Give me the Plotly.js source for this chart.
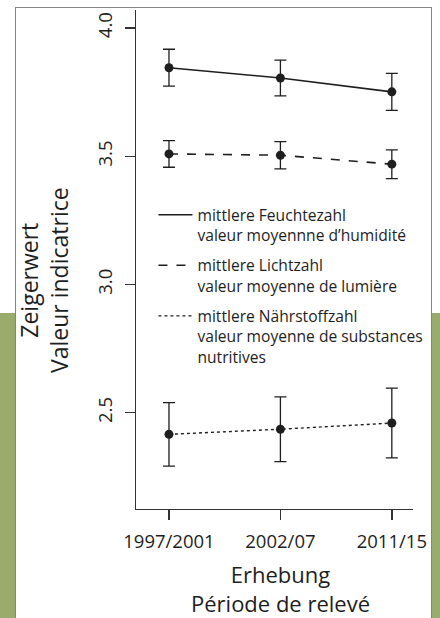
<!DOCTYPE html>
<html><head><meta charset="utf-8">
<script src="https://cdn.plot.ly/plotly-3.0.1.min.js"></script>
<style>
html,body{margin:0;padding:0;background:#fff;}
#wrap{position:relative;width:440px;height:618px;overflow:hidden;background:#fff;}
.green{position:absolute;background:#9aac6c;top:313px;height:305px;}
#gl{left:0;width:16px;}
#gr{left:432px;width:8px;}
#frame{position:absolute;left:15px;top:7px;width:417px;height:640px;border:1.5px solid #858585;box-sizing:border-box;background:#fff;}
#chart{position:absolute;left:0;top:0;width:440px;height:618px;}
</style></head>
<body><div id="wrap"><div class="green" id="gl"></div><div class="green" id="gr"></div><div id="frame"></div><div id="chart"></div></div>
<script>
// ---- data ----
const periods = ['1997/2001', '2002/07', '2011/15'];
const feuchteMean = [3.845, 3.805, 3.751];
const feuchteErr = [0.072, 0.070, 0.072];
const lichtMean = [3.509, 3.504, 3.469];
const lichtErr = [0.052, 0.053, 0.056];
const naehrMean = [2.416, 2.436, 2.460];
const naehrErr = [0.124, 0.126, 0.136];
const seriesNames = [
  'mittlere Feuchtezahl<br>valeur moyennne d\u2019humidité',
  'mittlere Lichtzahl<br>valeur moyenne de lumière',
  'mittlere Nährstoffzahl<br>valeur moyenne de substances<br>nutritives'
];
const yTickVals = [2.5, 3.0, 3.5, 4.0];
const yTickText = ['2.5', '3.0', '3.5', '4.0'];
const xTitle = 'Erhebung<br>Période de relevé';
const yTitle = 'Zeigerwert<br>Valeur indicatrice';

const ink = '#1e1e1e';
const FONT = 'Open Sans, sans-serif';
const means = [feuchteMean, lichtMean, naehrMean];
const errs = [feuchteErr, lichtErr, naehrErr];
const dashes = ['solid', 'dash', 'dot'];
const widths = [1.6, 1.6, 1.4];

const traces = [];
means.forEach((m, i) => {
  traces.push({
    x: periods, y: m, mode: 'lines', name: seriesNames[i],
    legendgroup: 'g' + i, showlegend: true,
    line: {color: ink, width: widths[i], dash: dashes[i]},
    hoverinfo: 'skip'
  });
});
means.forEach((m, i) => {
  traces.push({
    x: periods, y: m, mode: 'markers', showlegend: false, legendgroup: 'g' + i,
    marker: {color: ink, size: 9, symbol: 'circle'},
    error_y: {type: 'data', array: errs[i], visible: true, color: ink, thickness: 1.3, width: 6},
    hoverinfo: 'skip'
  });
});

const layout = {
  width: 440, height: 618,
  margin: {l: 136, r: 27, t: 10, b: 109, pad: 0, autoexpand: false},
  paper_bgcolor: 'rgba(0,0,0,0)', plot_bgcolor: 'rgba(0,0,0,0)',
  font: {family: FONT, color: ink},
  showlegend: true,
  legend: {
    x: 0.063, y: 0.623, xanchor: 'left', yanchor: 'top',
    bgcolor: 'rgba(0,0,0,0)', borderwidth: 0,
    font: {family: FONT, size: 15.6, color: ink},
    tracegroupgap: 7, valign: 'top', itemwidth: 34
  },
  xaxis: {
    type: 'category', range: [-0.296, 2.19], automargin: false,
    showline: true, linecolor: '#333', linewidth: 1.4,
    ticks: 'outside', ticklen: 10, tickwidth: 1.4, tickcolor: '#333',
    showgrid: false, zeroline: false, tickangle: 0,
    tickfont: {family: FONT, size: 18.5, color: ink},
    ticklabelstandoff: 5, fixedrange: true
  },
  yaxis: {
    range: [2.125, 4.07], automargin: false,
    showline: true, linecolor: '#333', linewidth: 1.4,
    ticks: 'outside', ticklen: 10, tickwidth: 1.4, tickcolor: '#333',
    tickvals: yTickVals, ticktext: yTickText, tickangle: -90,
    showgrid: false, zeroline: false,
    tickfont: {family: FONT, size: 18.5, color: ink},
    ticklabelstandoff: 5, fixedrange: true
  },
  annotations: [
    {text: yTitle, xref: 'paper', yref: 'paper', x: (44 - 136) / 277, y: (509 - 280) / 499,
     xanchor: 'center', yanchor: 'middle', textangle: -90, showarrow: false,
     font: {family: FONT, size: 23, color: ink}},
    {text: xTitle, xref: 'paper', yref: 'paper', x: (280 - 136) / 277, y: (509 - 588) / 499,
     xanchor: 'center', yanchor: 'middle', showarrow: false,
     font: {family: FONT, size: 22, color: ink}}
  ]
};
Plotly.newPlot('chart', traces, layout, {displayModeBar: false, staticPlot: true});
</script>
</body></html>
